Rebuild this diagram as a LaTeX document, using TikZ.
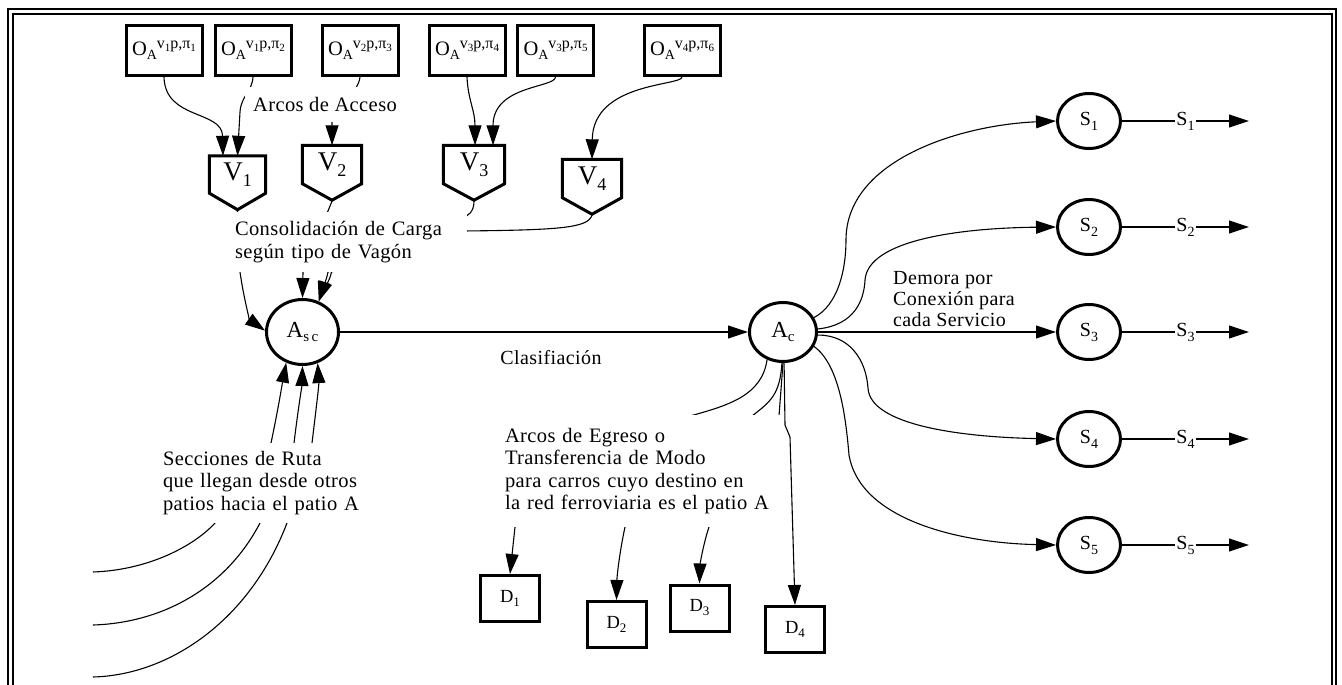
\documentclass[tikz,border=0pt]{standalone}
\usepackage{fontspec}
\setmainfont{Liberation Serif}
\newfontfamily\lblfont{Liberation Serif}[LetterSpace=2]
\usetikzlibrary{arrows.meta,shapes.geometric,calc}
\newcommand{\dn}[3]{\raisebox{-#1pt}{\fontsize{#2}{#2}\selectfont #3}}
\newcommand{\Olab}[2]{{\fontsize{20.5}{20}\selectfont O}\dn{4}{14}{A}\raisebox{7pt}{\fontsize{16}{16}\selectfont v\dn{2.5}{11}{#1}p,π\dn{2.5}{11}{#2}}}
\tikzset{
 obox/.style={draw, line width=3pt, minimum width=76pt, minimum height=50pt, inner sep=0pt},
 dbox/.style={draw, line width=3pt, minimum width=59pt, minimum height=46pt, inner sep=0pt, font=\fontsize{18.5}{18}\selectfont},
 vtop/.style={minimum width=59pt, minimum height=38pt, inner sep=0pt, font=\fontsize{27}{27}\selectfont},
 vline/.style={line width=3pt, line join=miter},
 circ/.style={ellipse, draw, line width=3pt, inner sep=0pt},
 snode/.style={circ, minimum width=63pt, minimum height=55pt, font=\fontsize{20}{20}\selectfont},
 conn/.style={line width=1.1pt, -{Triangle[length=20pt,width=13pt]}},
 lbl/.style={fill=white, inner sep=0pt, align=left, font=\lblfont\fontsize{20.5}{22.5}\selectfont},
 plainlbl/.style={inner sep=0pt, align=left, font=\lblfont\fontsize{20}{21}\selectfont},
 slbl/.style={fill=white, inner sep=1.5pt, font=\fontsize{20}{20}\selectfont},
 frame/.style={line width=2pt},
}
\begin{document}
\begin{tikzpicture}[x=1pt,y=-1pt]
\useasboundingbox (0,0) rectangle (1342,685);
% frame
\draw[frame] (7.5,9.5) rectangle (1336,720);
\draw[frame] (12.5,14) rectangle (1332,715);
% O boxes
\node[obox] (O1) at (164,50.5) {\Olab{1}{1}};
\node[obox] (O2) at (253,50.5) {\Olab{1}{2}};
\node[obox] (O3) at (360,50.5) {\Olab{2}{3}};
\node[obox] (O4) at (467,50.5) {\Olab{3}{4}};
\node[obox] (O5) at (555.5,50.5) {\Olab{3}{5}};
\node[obox] (O6) at (682,50.5) {\Olab{4}{6}};
% V nodes
\node[vtop, minimum width=56pt, minimum height=37pt] (V1) at (237.5,174.5) {V\dn{6}{18}{1}};
\node[vtop] (V2) at (332,164.5) {V\dn{6}{18}{2}};
\node[vtop, minimum width=61pt] (V3) at (474,164.5) {V\dn{6}{18}{3}};
\node[vtop] (V4) at (592,178.5) {V\dn{6}{18}{4}};
\foreach \v in {V1,V2,V3,V4}{
  \draw[vline] (\v.north west) -- (\v.north east) -- (\v.south east) -- ($(\v.south)+(0,16.5)$) -- (\v.south west) -- cycle;
  \coordinate (\v t) at ($(\v.south)+(0,17.5)$);
}
% A nodes
\node[circ, minimum width=72pt, minimum height=65pt, font=\fontsize{23}{23}\selectfont] (Asc) at (302.5,332) {A\dn{4.5}{15}{s\hspace{2.5pt}c}};
\node[circ, minimum width=67pt, minimum height=59pt, font=\fontsize{23}{23}\selectfont] (Ac) at (783,332) {A\dn{4.5}{15}{c}};
% S nodes
\node[snode] (S1) at (1089,121) {S\dn{5}{14}{1}};
\node[snode] (S2) at (1089,227) {S\dn{5}{14}{2}};
\node[snode] (S3) at (1089,332) {S\dn{5}{14}{3}};
\node[snode] (S4) at (1089,439) {S\dn{5}{14}{4}};
\node[snode] (S5) at (1089,545) {S\dn{5}{14}{5}};
% D nodes
\node[dbox] (D1) at (510,598.5) {D\dn{4}{13}{1}};
\node[dbox] (D2) at (616.5,624.5) {D\dn{4}{13}{2}};
\node[dbox] (D3) at (699.5,608) {D\dn{4}{13}{3}};
\node[dbox] (D4) at (795,629.5) {D\dn{4}{13}{4}};
% free ends
\coordinate (in1) at (93,572);
\coordinate (in2) at (93,625);
\coordinate (in3) at (93,677);
\foreach \i/\y in {1/121,2/227,3/332,4/439,5/545}{\coordinate (out\i) at (1249,\y);}
% O -> V
\draw[conn] (O1.south) .. controls (165,120) and (222,110) .. ($(V1.north)+(-14.5,0)$);
\draw[conn] (O2.south) .. controls (252,92) and (241,96) .. (240,112) -- (V1.north);
\draw[conn] (O3.south) .. controls (358,95) and (333,105) .. (332,122) -- (V2.north);
\draw[conn] (O4.south) .. controls (468,100) and (475,110) .. ($(V3.north)+(1,0)$);
\draw[conn] (O5.south) .. controls (555,88) and (493,85) .. ($(V3.north)+(19,0)$);
\draw[conn] (O6.south) .. controls (682,86) and (593,82) .. (V4.north);
% V -> Asc
\draw[conn] (V1t) -- (240,272) .. controls (244,300) and (250,320) .. (Asc.178);
\draw[conn] (V2t) -- (303,272) -- (Asc.north);
\draw[conn] (V3t) .. controls (474,212) and (468,216) .. (462,218) -- (328,272) .. controls (326,282) and (322,290) .. (Asc.62);
\draw[conn] (V4t) .. controls (588,228) and (560,230) .. (463,231) -- (331.5,272) .. controls (329.5,282) and (323,290) .. (Asc.62);
% routes -> Asc
\draw[conn] (in1) .. controls (150,570) and (195,545) .. (215,523) -- (271,443) .. controls (278,410) and (282,385) .. (Asc.-118);
\draw[conn] (in2) .. controls (160,623) and (225,590) .. (260,523) -- (294,443) .. controls (298,410) and (302,385) .. (Asc.-90);
\draw[conn] (in3) .. controls (170,675) and (250,620) .. (287,523) -- (312,443) .. controls (316,410) and (319,385) .. (Asc.-64);
% Asc -> Ac
\draw[conn] (Asc) -- (Ac);
% Ac -> S
\draw[conn] (Ac.25) .. controls (838,305) and (846,270) .. (846,240) .. controls (846,160) and (960,125) .. (S1.west);
\draw[conn] (Ac.5) .. controls (855,325) and (864,300) .. (865,280) .. controls (868,240) and (960,228) .. (S2.west);
\draw[conn] (Ac) -- (S3);
\draw[conn] (Ac.-5) .. controls (850,335) and (866,360) .. (868,388) .. controls (870,425) and (960,437) .. (S4.west);
\draw[conn] (Ac.-25) .. controls (840,365) and (846,420) .. (849,455) .. controls (860,520) and (960,543) .. (S5.west);
% Ac -> D
\draw[conn] (Ac.-120) .. controls (762,395) and (730,405) .. (690,416) -- (515,527) -- (D1.north);
\draw[conn] (Ac.-92) .. controls (780,395) and (770,402) .. (752,416) -- (625,527) .. controls (620,550) and (617,575) .. (D2.north);
\draw[conn] (Ac.-90) -- (779,416) -- (709,527) .. controls (703,545) and (700,565) .. (D3.north);
\draw[conn] (Ac.-88) -- (785,425) -- (790,437) -- (D4.north);
% S -> out
\draw[conn] (S1) -- node[slbl] {S\dn{5}{14}{1}} (out1);
\draw[conn] (S2) -- node[slbl] {S\dn{5}{14}{2}} (out2);
\draw[conn] (S3) -- node[slbl] {S\dn{5}{14}{3}} (out3);
\draw[conn] (S4) -- node[slbl] {S\dn{5}{14}{4}} (out4);
\draw[conn] (S5) -- node[slbl] {S\dn{5}{14}{5}} (out5);
% labels
\node[lbl, align=center, minimum width=160pt, minimum height=35pt] (lacc) at (325,104.5) {Arcos de Acceso};
\node[lbl, text width=230pt, inner xsep=2pt, minimum height=60pt] (lcons) at (350,242) {Consolidación de Carga\\según tipo de Vagón};
\node[lbl, text width=210pt, inner xsep=0pt, minimum height=80pt] (lsec) at (268,483) {Secciones de Ruta\\que llegan desde otros\\patios hacia el patio A};
\node[lbl, text width=276pt, inner xsep=2pt, minimum height=112pt] (legr) at (643,471) {Arcos de Egreso o\\Transferencia de Modo\\para carros cuyo destino en\\la red ferroviaria es el patio A};
\node[plainlbl] (lclas) at (551,358) {Clasifiación};
\node[plainlbl, anchor=west] (ldem) at (893,299) {Demora por\\Conexión para\\cada Servicio};
\end{tikzpicture}
\end{document}
